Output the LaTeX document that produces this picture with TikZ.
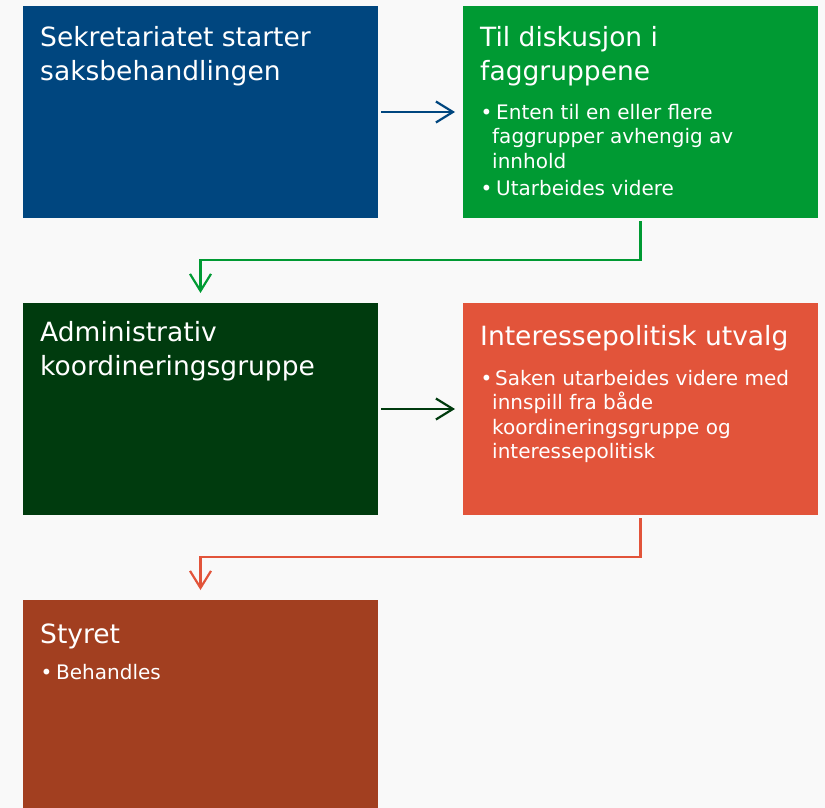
\documentclass[tikz,border=0pt]{standalone}
\usepackage{fontspec}
\setmainfont{DejaVu Sans}
\usetikzlibrary{arrows.meta}
\definecolor{bgc}{HTML}{F9F9F9}
\definecolor{cblue}{HTML}{00467F}
\definecolor{cgreen}{HTML}{009A33}
\definecolor{cdgreen}{HTML}{003B0E}
\definecolor{cred}{HTML}{E2543A}
\definecolor{cbrown}{HTML}{A23F20}
\begin{document}
\begin{tikzpicture}[x=1pt,y=-1pt,
 box/.style={draw=none, minimum width=355pt, minimum height=212pt, inner sep=0pt, outer sep=0pt},
 ttl/.style={anchor=base west, inner sep=0pt, text=white, font=\fontsize{26.5}{33}\selectfont},
 txt/.style={anchor=base west, inner sep=0pt, text=white, font=\fontsize{20}{24}\selectfont},
 bul/.style={anchor=base west, inner sep=0pt, text=white, font=\fontsize{20}{24}\selectfont},
 conn/.style={line width=2.2pt, -{Straight Barb[length=17pt,width=21pt]}}
]
\fill[bgc] (0,0) rectangle (825,808);
\useasboundingbox (0,0) rectangle (825,808);

\node[box, fill=cblue] (b1) at (200.5,112) {};
\node[box, fill=cgreen] (b2) at (640.5,112) {};
\node[box, fill=cdgreen] (b3) at (200.5,409) {};
\node[box, fill=cred] (b4) at (640.5,409) {};
\node[box, fill=cbrown, minimum height=208pt] (b5) at (200.5,704) {};

\node[ttl] (t1a) at (40,46.7) {Sekretariatet starter};
\node[ttl] (t1b) at (40,80.2) {saksbehandlingen};

\node[ttl] (t2a) at (480,47) {Til diskusjon i};
\node[ttl] (t2b) at (480,80.5) {faggruppene};
\node[bul] (u2a) at (480.5,119) {•};
\node[txt] (l2a) at (496,119) {Enten til en eller flere};
\node[txt] (l2b) at (492,143.5) {faggrupper avhengig av};
\node[txt] (l2c) at (492,168) {innhold};
\node[bul] (u2b) at (480.5,195) {•};
\node[txt] (l2d) at (496,195) {Utarbeides videre};

\node[ttl] (t3a) at (40,341.7) {Administrativ};
\node[ttl] (t3b) at (40,375) {koordineringsgruppe};

\node[ttl] (t4a) at (480,345) {Interessepolitisk utvalg};
\node[bul] (u4a) at (480.5,385) {•};
\node[txt] (l4a) at (495,385) {Saken utarbeides videre med};
\node[txt] (l4b) at (492,409.5) {innspill fra både};
\node[txt] (l4c) at (492,434) {koordineringsgruppe og};
\node[txt] (l4d) at (492,458.5) {interessepolitisk};

\node[ttl] (t5a) at (40,643) {Styret};
\node[bul] (u5a) at (40.5,679) {•};
\node[txt] (l5a) at (56,679) {Behandles};

\draw[conn, cblue] ([xshift=3pt]b1.east) -- ([xshift=-8pt]b2.west);
\draw[conn, cgreen] ([yshift=-3pt]b2.south) -- ++(0,39) -| ([yshift=10pt]b3.north);
\draw[conn, cdgreen] ([xshift=3pt]b3.east) -- ([xshift=-8pt]b4.west);
\draw[conn, cred] ([yshift=-3pt]b4.south) -- ++(0,39) -| ([yshift=10pt]b5.north);
\end{tikzpicture}
\end{document}
